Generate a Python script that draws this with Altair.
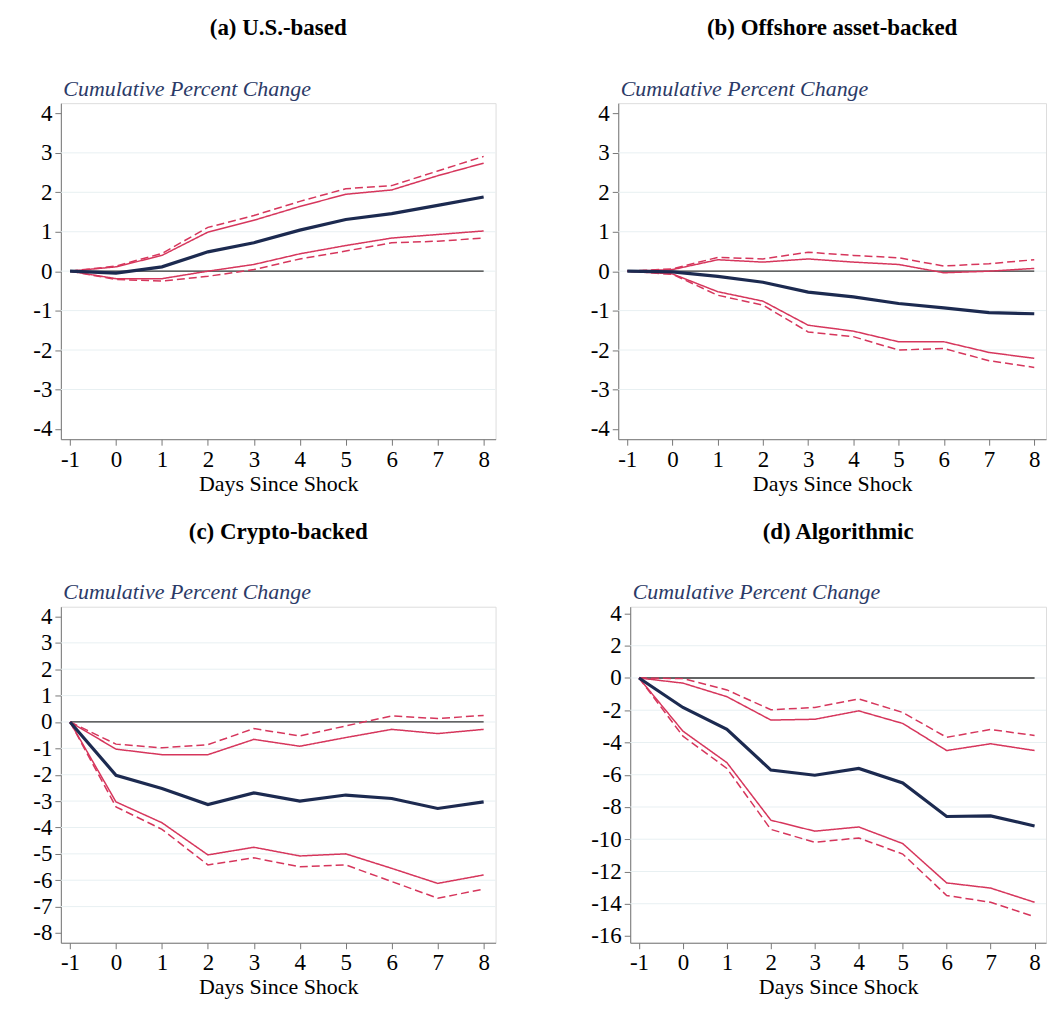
import altair as alt
import pandas as pd

days = [-1, 0, 1, 2, 3, 4, 5, 6, 7, 8]

titles = ["(a) U.S.-based", "(b) Offshore asset-backed", "(c) Crypto-backed", "(d) Algorithmic"]

a_est = [0, -0.05, 0.11, 0.49, 0.72, 1.04, 1.31, 1.46, 1.67, 1.88]
a_hi90 = [0, 0.11, 0.40, 0.99, 1.29, 1.64, 1.95, 2.06, 2.42, 2.74]
a_hi95 = [0, 0.13, 0.45, 1.11, 1.41, 1.77, 2.09, 2.17, 2.54, 2.91]
a_lo90 = [0, -0.19, -0.19, 0.00, 0.17, 0.44, 0.65, 0.84, 0.93, 1.02]
a_lo95 = [0, -0.21, -0.25, -0.13, 0.04, 0.31, 0.51, 0.72, 0.76, 0.84]

b_est = [0, -0.02, -0.13, -0.28, -0.53, -0.65, -0.82, -0.93, -1.05, -1.08]
b_hi90 = [0, 0.04, 0.29, 0.23, 0.31, 0.23, 0.17, -0.04, 0.00, 0.07]
b_hi95 = [0, 0.06, 0.35, 0.31, 0.48, 0.40, 0.34, 0.13, 0.19, 0.29]
b_lo90 = [0, -0.07, -0.52, -0.76, -1.37, -1.52, -1.79, -1.79, -2.06, -2.21]
b_lo95 = [0, -0.08, -0.61, -0.86, -1.54, -1.66, -2.00, -1.96, -2.27, -2.44]

c_est = [0, -2.02, -2.52, -3.13, -2.69, -3.00, -2.77, -2.90, -3.28, -3.03]
c_hi90 = [0, -1.03, -1.24, -1.24, -0.66, -0.92, -0.59, -0.28, -0.44, -0.28]
c_hi95 = [0, -0.84, -0.98, -0.86, -0.25, -0.53, -0.15, 0.23, 0.13, 0.25]
c_lo90 = [0, -3.03, -3.82, -5.04, -4.75, -5.08, -5.00, -5.55, -6.12, -5.80]
c_lo95 = [0, -3.22, -4.07, -5.42, -5.15, -5.49, -5.42, -6.05, -6.68, -6.34]

d_est = [0, -1.83, -3.19, -5.71, -6.03, -5.61, -6.51, -8.59, -8.55, -9.18]
d_hi90 = [0, -0.32, -1.16, -2.61, -2.56, -2.04, -2.82, -4.50, -4.08, -4.50]
d_hi95 = [0, -0.04, -0.74, -1.97, -1.83, -1.30, -2.14, -3.68, -3.19, -3.57]
d_lo90 = [0, -3.30, -5.25, -8.82, -9.50, -9.24, -10.27, -12.71, -13.03, -13.91]
d_lo95 = [0, -3.61, -5.61, -9.39, -10.19, -9.92, -10.92, -13.49, -13.91, -14.81]

ticks_ab = [-4, -3, -2, -1, 0, 1, 2, 3, 4]
ticks_c = [-8, -7, -6, -5, -4, -3, -2, -1, 0, 1, 2, 3, 4]
ticks_d = [-16, -14, -12, -10, -8, -6, -4, -2, 0, 2, 4]

NAVY = "#1c2a50"
RED = "#d6365c"
SERIF = "Liberation Serif"


def panel(title, est, hi90, hi95, lo90, lo95, yticks, ydom, width, height=337):
    rows = []
    for name, vals, kind in [("hi90", hi90, "solid"), ("lo90", lo90, "solid"),
                             ("hi95", hi95, "dashed"), ("lo95", lo95, "dashed")]:
        for d, v in zip(days, vals):
            rows.append({"day": d, "v": v, "series": name, "kind": kind})
    band_df = pd.DataFrame(rows)
    est_df = pd.DataFrame({"day": days, "v": est})
    zero_df = pd.DataFrame({"day": days, "v": [0] * len(days)})
    grid_df = pd.DataFrame({"v": yticks[1:-1]})

    xenc = alt.X("day:Q",
                 scale=alt.Scale(domain=[-1.2, 8.26], nice=False, zero=False),
                 axis=alt.Axis(values=days, title="Days Since Shock", grid=False,
                               labelFont=SERIF, labelFontSize=23, labelColor="black",
                               labelExpr="'' + datum.value",
                               titleFont=SERIF, titleFontSize=22, titleFontWeight="normal",
                               titleColor="black", titlePadding=2, labelPadding=3,
                               tickSize=6, tickColor="#777", domainColor="#777"))
    yenc = alt.Y("v:Q",
                 scale=alt.Scale(domain=ydom, nice=False, zero=False),
                 axis=alt.Axis(values=yticks, grid=False, title="Cumulative Percent Change",
                               labelFont=SERIF, labelFontSize=23, labelColor="black",
                               labelExpr="'' + datum.value", labelPadding=3,
                               tickSize=6, tickColor="#777", domainColor="#777",
                               titleAngle=0, titleAlign="left", titleBaseline="alphabetic",
                               titleX=2, titleY=-8, titleFont=SERIF, titleFontSize=22,
                               titleFontStyle="italic", titleFontWeight="normal",
                               titleColor="#2b3a67"))

    grid = alt.Chart(grid_df).mark_rule(color="#e8f0f2", strokeWidth=1).encode(y=yenc)
    zero = alt.Chart(zero_df).mark_line(color="#333333", strokeWidth=1.3).encode(x=xenc, y=yenc)
    bands = alt.Chart(band_df).mark_line(color=RED, strokeWidth=1.5).encode(
        x=xenc, y=yenc, detail="series:N",
        strokeDash=alt.StrokeDash("kind:N",
                                  scale=alt.Scale(domain=["solid", "dashed"], range=[[1, 0], [8, 4]]),
                                  legend=None))
    line = alt.Chart(est_df).mark_line(color=NAVY, strokeWidth=3.2).encode(x=xenc, y=yenc)

    return alt.layer(grid, zero, bands, line).properties(
        width=width, height=height,
        title=alt.TitleParams(title, font=SERIF, fontSize=23, fontWeight="bold",
                              color="black", anchor="middle", offset=37))


pa = panel(titles[0], a_est, a_hi90, a_hi95, a_lo90, a_lo95, ticks_ab, [-4.26, 4.26], 436)
pb = panel(titles[1], b_est, b_hi90, b_hi95, b_lo90, b_lo95, ticks_ab, [-4.26, 4.26], 429)
pc = panel(titles[2], c_est, c_hi90, c_hi95, c_lo90, c_lo95, ticks_c, [-8.37, 4.37], 436)
pd_ = panel(titles[3], d_est, d_hi90, d_hi95, d_lo90, d_lo95, ticks_d, [-16.42, 4.42], 417)

row1 = alt.hconcat(pa, pb, spacing=93)
row2 = alt.hconcat(pc, pd_, spacing=93)

chart = alt.vconcat(row1, row2, spacing=25).properties(
    padding={"left": 24, "top": 7, "right": 2, "bottom": 5}
).configure_view(stroke=None).configure(background="white")

chart.save("out.html", embed_options={"renderer": "svg", "actions": False})
